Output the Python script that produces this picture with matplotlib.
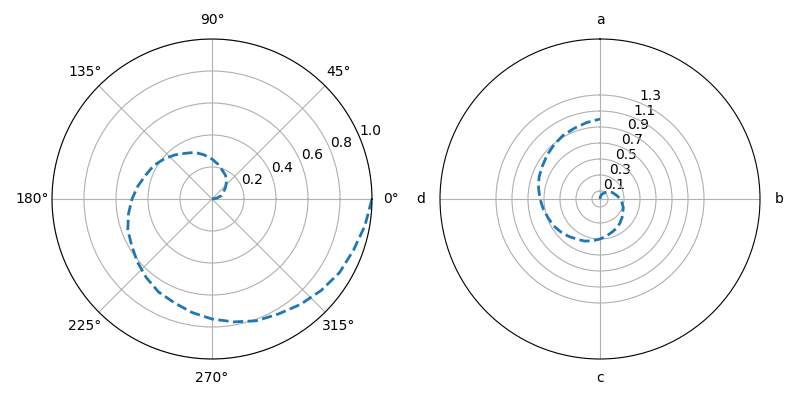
import matplotlib
matplotlib.use("Agg")
import numpy as np
import matplotlib.pyplot as plt

# spiral points: angle in degrees, radius
angle_deg = [0, 10, 20, 30, 40, 50, 60, 70, 80, 90, 100, 110, 120,
             130, 140, 150, 160, 170, 180, 190, 200, 210, 220, 230, 240,
             250, 260, 270, 280, 290, 300, 310, 320, 330, 340, 350, 360]
radius = [0.00, 0.03, 0.06, 0.08, 0.11, 0.14, 0.17, 0.19, 0.22, 0.25,
          0.28, 0.31, 0.33, 0.36, 0.39, 0.42, 0.44, 0.47, 0.50, 0.53,
          0.56, 0.58, 0.61, 0.64, 0.67, 0.69, 0.72, 0.75, 0.78, 0.81,
          0.83, 0.86, 0.89, 0.92, 0.94, 0.97, 1.00]

left_rticks = [0.2, 0.4, 0.6, 0.8, 1.0]
right_rticks = [0.1, 0.3, 0.5, 0.7, 0.9, 1.1, 1.3]
right_labels = ["a", "b", "c", "d"]

theta = np.deg2rad(angle_deg)

fig, (ax1, ax2) = plt.subplots(1, 2, figsize=(8, 4), dpi=100,
                               subplot_kw={"projection": "polar"})
ax1.set_position([0.065, 0.1025, 0.4, 0.8])
ax2.set_position([0.55, 0.1025, 0.4, 0.8])

ax1.plot(theta, radius, "--", lw=2, color="C0")
ax1.set_rmax(1.0)
ax1.set_rticks(left_rticks)
ax1.grid(True)

ax2.plot(theta, radius, "--", lw=2, color="C0")
ax2.set_theta_zero_location("N")
ax2.set_theta_direction(-1)
ax2.set_rmax(2.0)
ax2.set_rticks(right_rticks)
ax2.set_thetagrids([0, 90, 180, 270], right_labels)
ax2.grid(True)

fig.savefig("out.png", dpi=100)
